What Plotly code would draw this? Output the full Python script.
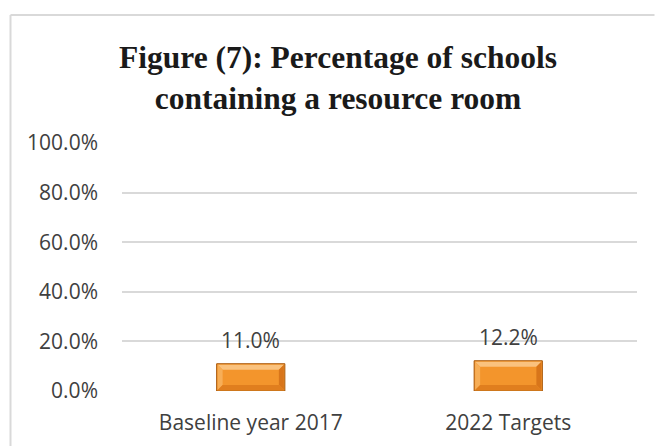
import plotly.graph_objects as go

# Share of schools that have a resource room
categories = ["Baseline year 2017", "2022 Targets"]
values = [0.110, 0.122]
tick_vals = [0.0, 0.2, 0.4, 0.6, 0.8, 1.0]
tick_text = ["0.0%", "20.0%", "40.0%", "60.0%", "80.0%", "100.0%"]

W, H = 655, 447
L, R, T, B = 122, 18, 143, 56
pw, ph = W - L - R, H - T - B
BAR_W = 0.265

label_font = dict(family="Open Sans", size=21, color="#404040")

fig = go.Figure()
fig.add_trace(go.Bar(
    x=categories,
    y=values,
    width=BAR_W,
    marker=dict(color="#F3952C", line=dict(color="#A8590C", width=1)),
    hoverinfo="skip",
))

# value labels above each bar
for c, v in zip(categories, values):
    fig.add_annotation(
        x=c, y=v, text=f"{v*100:.1f}%", showarrow=False,
        yanchor="bottom", yshift=8, font=label_font,
    )

# bevelled edges on each bar, sized in pixels around the bar's own corners
half = BAR_W * pw / len(categories) / 2 - 1
bev = 5
for i, v in enumerate(values):
    hpx = v * ph - 1
    edges = [
        # top (light)
        (f"M{-half},{hpx} L{half},{hpx} L{half-bev},{hpx-bev} L{-half+bev},{hpx-bev} Z", "#FAC27E"),
        # left (light)
        (f"M{-half},{hpx} L{-half+bev},{hpx-bev} L{-half+bev},{1+bev} L{-half},1 Z", "#F7AE57"),
        # right (dark)
        (f"M{half},{hpx} L{half-bev},{hpx-bev} L{half-bev},{1+bev} L{half},1 Z", "#D8751A"),
        # bottom (dark)
        (f"M{-half},1 L{half},1 L{half-bev},{1+bev} L{-half+bev},{1+bev} Z", "#E07E1E"),
    ]
    for path, col in edges:
        fig.add_shape(type="path", path=path, xref="x", yref="y",
                      xsizemode="pixel", ysizemode="pixel", xanchor=i, yanchor=0,
                      fillcolor=col, line=dict(width=0), layer="above")

# chart frame (top and left edges)
def px_x(p):
    return (p - L) / pw

def px_y(p):
    return (H - B - p) / ph

frame = dict(color="#D9D9D9", width=2)
fig.add_shape(type="line", xref="paper", yref="paper",
              x0=px_x(10.5), x1=px_x(W - 0.5), y0=px_y(15), y1=px_y(15), line=frame)
fig.add_shape(type="line", xref="paper", yref="paper",
              x0=px_x(10.5), x1=px_x(10.5), y0=px_y(15), y1=px_y(H - 1), line=frame)

fig.update_layout(
    width=W, height=H,
    margin=dict(l=L, r=R, t=T, b=B, autoexpand=False),
    paper_bgcolor="white", plot_bgcolor="white",
    showlegend=False,
    title=dict(
        text="<b>Figure (7): Percentage of schools<br>containing a resource room</b>",
        font=dict(family="Liberation Serif", size=31.5, color="#1a1a1a"),
        x=338 / W, xanchor="center", xref="container",
        y=1 - 68 / H, yanchor="top", yref="container",
    ),
    xaxis=dict(
        showgrid=False, showline=False, zeroline=False,
        tickfont=label_font, ticks="", ticklabelstandoff=17,
    ),
    yaxis=dict(
        range=[0, 1.0], tickvals=tick_vals, ticktext=tick_text,
        showgrid=True, gridcolor="#D9D9D9", gridwidth=1.5,
        zeroline=False, showline=False,
        tickfont=label_font, ticks="", ticklabelstandoff=23,
    ),
)

fig.write_html("out.html")
